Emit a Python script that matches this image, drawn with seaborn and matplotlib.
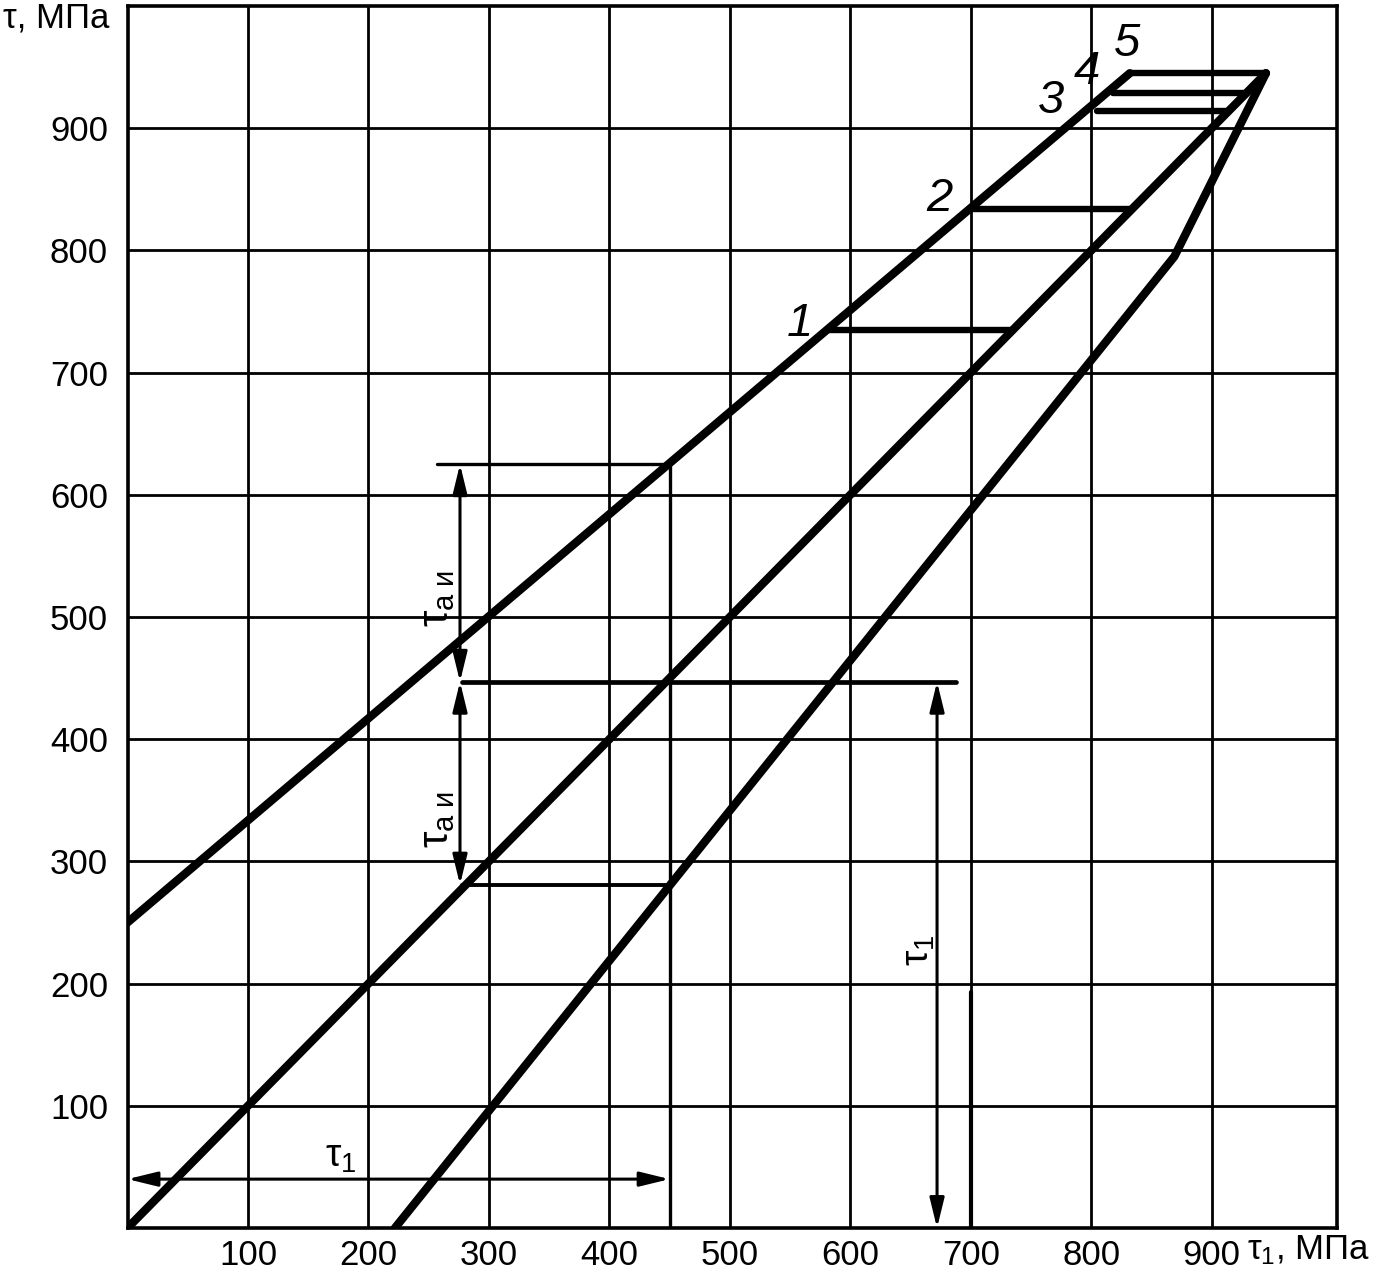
import numpy as np
import pandas as pd
import matplotlib
matplotlib.use("Agg")
import matplotlib.pyplot as plt
import seaborn as sns

# ---- data ----
upper_x = [0, 832]
upper_y = [250, 945]
middle_x = [0, 945]
middle_y = [0, 945]
lower_x = [222, 869, 945]
lower_y = [0, 795, 945]

cut_names = ["1", "2", "3", "4", "5"]
cut_y = [735, 834, 914, 929, 945]
cut_x0 = [581, 699, 805, 818, 832]
cut_x1 = [733, 832, 913, 929, 945]
cut_label_x = [558, 674, 767, 796, 830]
cut_label_y = [740, 842, 922, 946, 969]

ticks = [100, 200, 300, 400, 500, 600, 700, 800, 900]

# construction (example) values
ex_tau1 = 450          # τ1 chosen
ex_max = 625           # upper line at τ1
ex_mid = 447           # middle line at τ1
ex_min = 281           # lower line at τ1

sns.set_theme(style="white")
plt.rcParams["font.family"] = ["Liberation Sans", "DejaVu Sans"]
plt.rcParams["mathtext.fontset"] = "custom"
plt.rcParams["mathtext.rm"] = "Liberation Sans"
plt.rcParams["mathtext.it"] = "Liberation Sans"
plt.rcParams["mathtext.bf"] = "Liberation Sans:bold"
plt.rcParams["text.color"] = "black"
plt.rcParams["xtick.color"] = "black"
plt.rcParams["ytick.color"] = "black"

fig = plt.figure(figsize=(13.89, 12.80), dpi=100)
ax = fig.add_axes([127.5 / 1389, 1 - 1228 / 1280, (1337 - 127.5) / 1389, (1228 - 6) / 1280])

# grid
for t in ticks:
    ax.axvline(t, color="black", lw=2.0, zorder=1)
    ax.axhline(t, color="black", lw=2.0, zorder=1)

lines = pd.DataFrame({
    "x": upper_x + middle_x + lower_x,
    "y": upper_y + middle_y + lower_y,
    "line": ["upper"] * len(upper_x) + ["middle"] * len(middle_x) + ["lower"] * len(lower_x),
})
sns.lineplot(data=lines, x="x", y="y", units="line", estimator=None, sort=False,
             color="black", linewidth=6.0, ax=ax, zorder=3)

# cut-off lines 1..5
cuts = pd.DataFrame({
    "x": cut_x0 + cut_x1,
    "y": cut_y + cut_y,
    "n": cut_names + cut_names,
})
sns.lineplot(data=cuts, x="x", y="y", units="n", estimator=None, sort=False,
             color="black", linewidth=4.6, ax=ax, zorder=3)
for n, lx, ly in zip(cut_names, cut_label_x, cut_label_y):
    ax.text(lx, ly, n, fontsize=34, fontstyle="italic", ha="center", va="center",
            color="black", zorder=4)

# construction lines
ax.plot([ex_tau1, ex_tau1], [0, ex_max], color="black", lw=2.4, zorder=2)
ax.plot([257, ex_tau1], [ex_max, ex_max], color="black", lw=2.4, zorder=2)
ax.plot([278, 688], [ex_mid, ex_mid], color="black", lw=3.4, zorder=2)
ax.plot([278, ex_tau1], [ex_min, ex_min], color="black", lw=2.8, zorder=2)
ax.plot([700, 700], [0, 193], color="black", lw=3.0, zorder=2)

arrow = dict(arrowstyle="<|-|>,head_length=0.9,head_width=0.22", color="black", lw=2.2,
             shrinkA=0, shrinkB=0, mutation_scale=20)
ax.annotate("", xy=(276, ex_max), xytext=(276, ex_mid), arrowprops=arrow, zorder=3)
ax.annotate("", xy=(276, ex_mid), xytext=(276, ex_min), arrowprops=arrow, zorder=3)
ax.annotate("", xy=(672, ex_mid), xytext=(672, 0), arrowprops=arrow, zorder=3)
ax.annotate("", xy=(0, 40), xytext=(ex_tau1, 40), arrowprops=arrow, zorder=3)

ax.text(257, 515, r"$\tau_{\mathrm{а\ и}}$", fontsize=30, rotation=90, ha="center", va="center")
ax.text(257, 334, r"$\tau_{\mathrm{а\ и}}$", fontsize=30, rotation=90, ha="center", va="center")
ax.text(657, 227, r"$\tau_1$", fontsize=28, rotation=90, ha="center", va="center")
ax.text(177, 58, r"$\tau_1$", fontsize=28, ha="center", va="center")

ax.set_xlim(0, 1004)
ax.set_ylim(0, 1000)
ax.set_xticks(ticks)
ax.set_yticks(ticks)
ax.set_xticklabels([str(t) for t in ticks])
ax.set_yticklabels([str(t) for t in ticks])
ax.tick_params(axis="both", length=0, labelsize=25, colors="black")
ax.tick_params(axis="y", pad=14)
ax.tick_params(axis="x", pad=8)
ax.set_xlabel("")
ax.set_ylabel("")
for s in ax.spines.values():
    s.set_visible(True)
    s.set_color("black")
    s.set_linewidth(2.6)

fig.text(3 / 1389, 1 - 18 / 1280, "τ, МПа", fontsize=25, ha="left", va="center", color="black")
fig.text(1247 / 1389, 1 - 1250 / 1280, r"$\tau_1$, МПа", fontsize=25, ha="left", va="center",
         color="black")

fig.savefig("out.png", dpi=100, facecolor="white")
